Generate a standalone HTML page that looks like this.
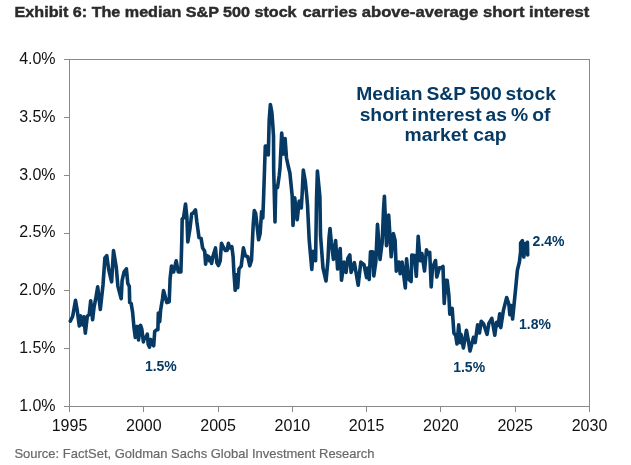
<!DOCTYPE html>
<html><head><meta charset="utf-8"><style>
html,body{margin:0;padding:0;background:#fff;}
body{width:631px;height:465px;overflow:hidden;position:relative;font-family:"Liberation Sans",sans-serif;}
svg{position:absolute;left:0;top:0;will-change:transform;}
</style></head><body>
<svg width="631" height="465" viewBox="0 0 631 465">
<g font-family="Liberation Sans" font-weight="bold" font-size="15.2" fill="#2b2b2b" stroke="#2b2b2b" stroke-width="0.45">
<text x="14.6" y="16.9" textLength="282" lengthAdjust="spacingAndGlyphs">Exhibit 6: The median S&amp;P 500 stock</text>
<text x="302.6" y="16.9" textLength="286.6" lengthAdjust="spacingAndGlyphs">carries above-average short interest</text>
</g>
<g stroke="#8a8a8a" stroke-width="1" fill="none" shape-rendering="crispEdges">
<rect x="69.5" y="59.5" width="520.0" height="347.0"/>
<line x1="64" y1="59.5" x2="69.5" y2="59.5"/><line x1="64" y1="117.33333333333334" x2="69.5" y2="117.33333333333334"/><line x1="64" y1="175.16666666666669" x2="69.5" y2="175.16666666666669"/><line x1="64" y1="233.0" x2="69.5" y2="233.0"/><line x1="64" y1="290.83333333333337" x2="69.5" y2="290.83333333333337"/><line x1="64" y1="348.6666666666667" x2="69.5" y2="348.6666666666667"/><line x1="64" y1="406.5" x2="69.5" y2="406.5"/><line x1="69.5" y1="406.5" x2="69.5" y2="412"/><line x1="143.8" y1="406.5" x2="143.8" y2="412"/><line x1="218.1" y1="406.5" x2="218.1" y2="412"/><line x1="292.4" y1="406.5" x2="292.4" y2="412"/><line x1="366.6" y1="406.5" x2="366.6" y2="412"/><line x1="440.9" y1="406.5" x2="440.9" y2="412"/><line x1="515.2" y1="406.5" x2="515.2" y2="412"/><line x1="589.5" y1="406.5" x2="589.5" y2="412"/>
</g>
<g font-family="Liberation Sans" font-size="16" fill="#111">
<text x="55.6" y="63.9" text-anchor="end">4.0%</text><text x="55.6" y="121.7" text-anchor="end">3.5%</text><text x="55.6" y="179.6" text-anchor="end">3.0%</text><text x="55.6" y="237.4" text-anchor="end">2.5%</text><text x="55.6" y="295.2" text-anchor="end">2.0%</text><text x="55.6" y="353.1" text-anchor="end">1.5%</text><text x="55.6" y="410.9" text-anchor="end">1.0%</text>
<text x="69.5" y="431.2" text-anchor="middle">1995</text><text x="143.8" y="431.2" text-anchor="middle">2000</text><text x="218.1" y="431.2" text-anchor="middle">2005</text><text x="292.4" y="431.2" text-anchor="middle">2010</text><text x="366.6" y="431.2" text-anchor="middle">2015</text><text x="440.9" y="431.2" text-anchor="middle">2020</text><text x="515.2" y="431.2" text-anchor="middle">2025</text><text x="589.5" y="431.2" text-anchor="middle">2030</text>
</g>
<path d="M70.3 321.1 L72.7 316.3 L75.5 300.3 L77.1 309.5 L79.3 326.0 L80.5 315.8 L82.4 325.0 L83.9 316.8 L85.3 333.2 L87.3 316.3 L89.2 314.4 L90.7 300.8 L92.6 319.7 L94.0 307.6 L96.0 297.0 L97.7 286.9 L100.3 309.5 L103.0 285.0 L104.9 258.0 L106.8 255.7 L108.7 269.5 L111.6 281.8 L113.5 250.5 L116.3 267.6 L117.9 286.4 L121.2 298.7 L122.1 280.7 L124.0 272.1 L126.4 268.8 L127.8 283.5 L129.3 286.4 L129.7 302.6 L131.2 303.6 L132.6 312.1 L134.0 327.7 L135.3 337.4 L136.3 326.5 L137.9 326.5 L138.5 340.0 L140.5 325.2 L141.8 329.0 L143.4 341.9 L144.4 337.4 L145.6 338.0 L147.3 334.2 L148.2 344.5 L149.5 347.1 L150.8 339.4 L152.1 343.2 L153.7 345.8 L154.7 331.6 L156.6 329.7 L157.9 329.7 L158.3 313.0 L159.7 321.6 L160.6 310.2 L162.5 298.8 L163.5 290.6 L166.8 302.6 L169.2 301.7 L170.1 278.8 L171.5 266.0 L173.6 272.0 L176.2 260.8 L178.3 272.0 L180.9 272.0 L181.8 240.0 L182.2 219.0 L183.5 218.0 L185.5 204.0 L186.9 217.2 L187.8 242.0 L190.0 228.4 L191.7 213.8 L193.4 212.9 L195.5 209.9 L196.8 221.5 L199.0 237.6 L201.1 238.4 L202.6 247.9 L204.7 251.3 L205.6 264.2 L206.9 255.6 L208.6 256.5 L209.5 260.8 L210.8 258.2 L211.6 263.4 L212.9 256.5 L215.5 247.9 L216.8 262.5 L218.5 265.5 L220.2 260.8 L221.5 243.2 L223.2 247.0 L225.4 250.5 L227.1 250.5 L228.4 243.2 L229.7 247.9 L231.8 246.6 L233.1 256.5 L233.9 272.2 L235.2 290.3 L236.5 274.8 L237.7 287.7 L239.0 268.8 L241.2 266.2 L243.4 247.9 L245.3 255.7 L247.7 256.6 L249.8 265.8 L251.5 260.2 L253.2 225.0 L254.3 210.6 L255.7 213.6 L258.6 239.7 L260.1 233.9 L261.6 211.6 L262.8 218.0 L263.5 200.0 L264.5 170.0 L265.3 146.0 L267.9 146.0 L268.3 155.0 L269.2 120.0 L270.4 104.5 L271.8 112.0 L272.8 125.0 L273.5 136.0 L273.7 170.0 L275.0 222.0 L275.8 186.0 L277.5 187.5 L279.2 175.5 L280.0 168.0 L281.7 133.0 L283.4 154.0 L285.1 138.6 L286.5 158.0 L288.2 166.0 L289.9 173.0 L292.2 196.0 L293.0 225.4 L294.7 197.8 L297.2 219.8 L299.2 201.0 L301.3 208.0 L302.2 193.0 L303.3 170.0 L305.3 181.5 L306.6 194.4 L307.5 205.0 L309.2 240.0 L311.8 269.4 L313.1 251.3 L314.8 252.2 L315.6 260.8 L316.5 200.0 L317.4 171.0 L319.9 197.0 L320.5 235.0 L323.0 268.0 L326.0 281.0 L327.9 261.0 L329.0 238.0 L330.0 228.5 L331.3 242.2 L333.4 259.4 L335.6 240.5 L337.6 269.0 L340.2 248.5 L341.5 280.2 L344.0 262.1 L346.0 272.4 L347.9 258.2 L349.8 255.0 L351.1 272.4 L354.4 262.7 L358.2 285.3 L360.8 262.1 L364.0 264.7 L366.6 277.6 L367.7 268.0 L369.2 279.5 L370.5 251.8 L372.8 251.8 L373.8 276.0 L375.8 262.1 L377.5 224.4 L378.8 242.2 L380.0 259.4 L382.2 242.2 L383.5 210.0 L384.4 196.2 L385.6 224.4 L386.5 245.6 L388.7 215.0 L391.2 256.8 L393.4 233.6 L395.1 240.5 L396.3 271.1 L398.9 262.1 L400.2 273.7 L402.1 262.1 L405.3 287.9 L406.6 258.9 L408.5 278.9 L411.1 281.5 L411.8 255.0 L414.4 255.6 L416.3 276.3 L418.2 236.3 L420.2 260.8 L421.9 253.5 L424.5 271.0 L426.5 249.7 L427.7 254.2 L429.7 252.3 L431.2 287.0 L432.5 268.0 L435.5 260.5 L436.8 277.0 L439.4 267.7 L441.0 268.0 L443.0 266.5 L443.6 285.5 L444.2 303.5 L445.9 280.3 L447.2 280.3 L448.9 295.8 L449.8 314.2 L452.2 308.3 L453.9 333.1 L455.7 335.5 L457.0 344.0 L458.7 324.9 L460.4 342.6 L461.0 334.3 L463.4 348.0 L466.4 330.2 L468.1 339.1 L470.0 351.0 L473.5 337.3 L475.2 342.6 L477.6 324.9 L479.5 333.0 L481.2 321.3 L483.5 323.7 L487.1 334.3 L488.8 323.7 L491.8 318.3 L494.8 335.2 L496.5 322.3 L498.1 325.5 L499.7 313.7 L500.8 327.6 L503.4 310.4 L506.7 297.5 L508.8 304.0 L509.9 314.7 L511.5 305.6 L512.6 319.0 L515.5 290.0 L517.4 270.0 L519.4 262.0 L520.6 252.0 L520.6 243.0 L522.4 240.6 L523.8 257.0 L525.1 243.5 L526.5 245.0 L527.4 242.3 L527.7 255.0" fill="none" stroke="#063a64" stroke-width="3.6" stroke-linejoin="round" stroke-linecap="round"/>
<g font-family="Liberation Sans" font-weight="bold" fill="#063a64" text-anchor="middle" font-size="18.3">
<text transform="translate(456 100.1) scale(1.055 1)" word-spacing="-1.5">Median S&amp;P 500 stock</text>
<text transform="translate(455 121.3) scale(1.055 1)" word-spacing="-1.3">short interest as % of</text>
<text transform="translate(455.5 141.3) scale(1.055 1)">market cap</text>
</g>
<g font-family="Liberation Sans" font-weight="bold" fill="#063a64" font-size="14">
<text x="144.9" y="370.8">1.5%</text>
<text x="453.2" y="371.6">1.5%</text>
<text x="532.6" y="246.1">2.4%</text>
<text x="519" y="328.8">1.8%</text>
</g>
<text x="14.4" y="458.1" font-family="Liberation Sans" font-size="13.3" fill="#686868" stroke="#686868" stroke-width="0.2" textLength="360.2" lengthAdjust="spacingAndGlyphs">Source: FactSet, Goldman Sachs Global Investment Research</text>
</svg>
</body></html>
